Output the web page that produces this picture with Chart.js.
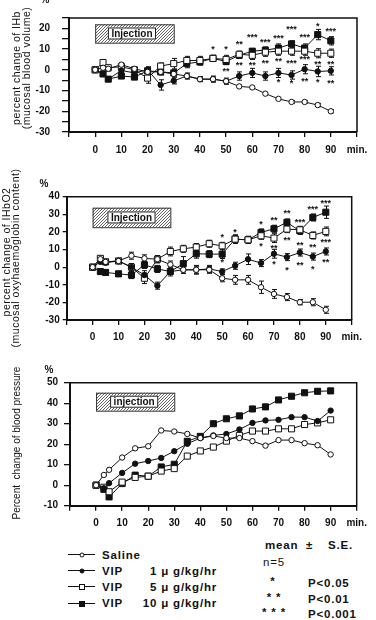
<!DOCTYPE html>
<html>
<head>
<meta charset="utf-8">
<script src="https://cdn.jsdelivr.net/npm/chart.js@4.4.1/dist/chart.umd.min.js"></script>
<style>
  body { margin: 0; background: #fff; }
  #page { position: relative; width: 376px; height: 620px; overflow: hidden;
          font-family: "Liberation Sans", Arial, sans-serif; color: #111; }
  #page canvas { position: absolute; left: 0; }
  .lbl { position: absolute; white-space: nowrap; line-height: 1; }
  .ytitle { transform: translate(-50%, -50%) rotate(-90deg); font-size: 10.5px; letter-spacing: 0.5px; }
  .pct { font-size: 10px; font-weight: bold; transform: translate(-50%, -50%); }
  .leg { font-size: 11.5px; font-weight: bold; letter-spacing: 0.8px; transform: translateY(-50%); }
  .dose { transform: translate(-100%, -50%); }
  .star { transform: translate(-50%, -50%); }
  .ln { position: absolute; left: 68px; width: 27px; height: 0; border-top: 1px solid #111; }
  .mk { position: absolute; box-sizing: border-box; border: 1px solid #111; transform: translate(-50%, -50%); }
</style>
</head>
<body>
<div id="page">
  <canvas id="c1" width="376" height="160" style="top:0"></canvas>
  <canvas id="c2" width="376" height="175" style="top:170px"></canvas>
  <canvas id="c3" width="376" height="170" style="top:360px"></canvas>

  <!-- axis titles -->
  <div class="lbl pct" style="left:45px;top:0px">%</div>
  <div class="lbl ytitle" style="left:16px;top:68px">percent change of IHb</div>
  <div class="lbl ytitle" style="left:26px;top:68px">(mucosal blood volume)</div>

  <div class="lbl pct" style="left:44px;top:184px">%</div>
  <div class="lbl ytitle" style="left:6px;top:252px">percent change of IHbO2</div>
  <div class="lbl ytitle" style="left:15px;top:258px">(mucosal oxyhaemoglobin content)</div>

  <div class="lbl pct" style="left:49px;top:370px">%</div>
  <div class="lbl ytitle" style="left:17px;top:443px;font-size:10px;letter-spacing:0">Percent&nbsp; change of blood pressure</div>

  <!-- legend -->
  <div class="ln" style="top:554px"></div>
  <div class="mk" style="left:82px;top:554.5px;width:5px;height:5px;border-radius:50%;background:#fff"></div>
  <div class="lbl leg" style="left:102px;top:556px">Saline</div>

  <div class="ln" style="top:570px"></div>
  <div class="mk" style="left:82px;top:570.5px;width:5px;height:5px;border-radius:50%;background:#111"></div>
  <div class="lbl leg" style="left:102px;top:572px">VIP</div>
  <div class="lbl leg dose" style="left:217px;top:572px">1 μ g/kg/hr</div>

  <div class="ln" style="top:586px"></div>
  <div class="mk" style="left:82px;top:586.5px;width:6px;height:6px;background:#fff"></div>
  <div class="lbl leg" style="left:102px;top:588px">VIP</div>
  <div class="lbl leg dose" style="left:217px;top:588px">5 μ g/kg/hr</div>

  <div class="ln" style="top:603px"></div>
  <div class="mk" style="left:82px;top:603.5px;width:6px;height:6px;background:#111"></div>
  <div class="lbl leg" style="left:102px;top:604px">VIP</div>
  <div class="lbl leg dose" style="left:217px;top:604px">10 μ g/kg/hr</div>

  <div class="lbl leg" style="left:265px;top:546px">mean</div>
  <div class="lbl leg" style="left:306px;top:546px">±</div>
  <div class="lbl leg" style="left:328px;top:546px">S.E.</div>
  <div class="lbl leg" style="left:263px;top:563px;font-weight:normal">n=5</div>
  <div class="lbl leg star" style="left:273px;top:582px">*</div>
  <div class="lbl leg" style="left:308px;top:584px">P&lt;0.05</div>
  <div class="lbl leg star" style="left:274px;top:598px">* *</div>
  <div class="lbl leg" style="left:308px;top:600px">P&lt;0.01</div>
  <div class="lbl leg star" style="left:274px;top:613px">* * *</div>
  <div class="lbl leg" style="left:308px;top:615px">P&lt;0.001</div>
</div>

<script>
// sampling times (min)
const minutes = [0, 3, 5, 10, 15, 20, 25, 30, 35, 40, 45, 50, 55, 60, 65, 70, 75, 80, 85, 90];
const injection = [0, 30];
const groups = ['Saline', 'VIP 1 μg/kg/hr', 'VIP 5 μg/kg/hr', 'VIP 10 μg/kg/hr'];

// IHb (mucosal blood volume), % change
const ihbSaline = [0, 1, 0.5, 2.5, 0.5, -1, -1, -2, -3, -4.5, -4.5, -5.5, -8, -8.5, -11.5, -14, -15.5, -15.5, -17, -20];
const ihbVip1   = [0, -2, -4.5, -0.3, -1.5, 0, -7.3, -5.3, -3, -4.5, -4.5, -5.5, -3, -1.5, -3, -1.5, -2.5, 0.3, -0.8, -0.5];
const ihbVip5   = [0, 3.5, 1, 1.5, 0, -4, 1.8, 3, 4.5, 4.5, 5.5, 5, 7.5, 7, 8.5, 9, 9, 9, 8, 8];
const ihbVip10  = [0, -2, -4.5, -3, -3.5, -0.5, -1, -1.5, 3, 3.8, 5.5, 4, 7, 9, 9.5, 10.5, 12.5, 10.5, 17, 14];
const ihbSeSaline = [0, 1, 1, 0.8, 1, 1.2, 1, 1, 1, 1, 1, 0.8, 0.6, 0.6, 0.6, 0.6, 0.6, 0.6, 0.8, 0.8];
const ihbSeVip1   = [0, 1, 1, 1, 1, 1.5, 2.5, 1.5, 1.5, 1.2, 1.5, 1.5, 2, 2.2, 2, 2.2, 2, 2.2, 2.5, 2];
const ihbSeVip5   = [0, 1.5, 1.2, 1, 1.5, 2.5, 1.5, 2.5, 2, 2, 1.5, 2, 1.5, 2, 2, 2, 2, 2, 2.2, 2];
const ihbSeVip10  = [0, 1, 1, 1, 1, 1.5, 1.5, 1.5, 2, 1.5, 1.5, 1.5, 1.5, 1.2, 1.5, 2, 1.5, 2, 2.5, 2];
const ihbStars = [
  [45, 10.6, '*'], [50, 10.6, '*'], [55, 13, '**'], [60, 16.5, '***'], [65, 13.9, '***'],
  [70, 16.1, '***'], [75, 20.6, '***'], [80, 16.5, '***'], [85, 22, '*'], [90, 19.6, '***'],
  [50, 0, '**'], [55, 2.8, '**'], [60, 3, '**'], [65, 4.1, '**'], [70, 5.1, '**'],
  [75, 4.1, '***'], [80, 5.7, '***'], [85, 3.3, '**'], [90, 3.3, '**'],
  [70, -5.2, '*'], [75, -5.6, '*'], [80, -4.7, '**'], [85, -5.2, '*'], [90, -5.8, '**']
];

// IHbO2 (mucosal oxyhaemoglobin content), % change
const oxySaline = [0, 4.5, 3, 3.5, 6.5, 5, 4.5, 1.5, -1.5, -1.5, -1.5, -6.3, -7.2, -7.2, -11.4, -15.2, -17, -19.9, -19.9, -24.2];
const oxyVip1   = [0, 3, 2.5, 3.5, 0, -4.5, -10.5, -2.5, -1.5, -1.5, -1, -2.5, 0.8, 4.5, 2.3, 7.6, 5.7, 8.3, 6, 8.9];
const oxyVip5   = [0, 5, 3, 3.5, 0, -6.3, 4.5, 8.9, 10.4, 11.4, 13.3, 12.1, 15.9, 15.5, 17.8, 16.5, 21.6, 21.2, 18, 20.3];
const oxyVip10  = [0, -2.5, -3, -3.8, -4.5, 1.3, -1, -2.5, 2, 7.6, 7.4, 7.4, 15.9, 15.5, 19.7, 21.8, 25.4, 20.6, 28.2, 31.2];
const oxySeSaline = [0, 1.5, 1.5, 1.5, 2, 2, 2, 2, 2, 2, 2, 2, 2.5, 2.5, 3.5, 2.5, 2, 1.5, 2, 2];
const oxySeVip1   = [0, 1, 1, 1.5, 2, 2.5, 2, 1.5, 2, 2.5, 2, 1.5, 2, 3, 2, 2.5, 2, 2, 2, 2];
const oxySeVip5   = [0, 1.5, 1.5, 1.5, 2, 3, 2, 2.5, 2, 2, 2, 2, 2, 2, 2, 2.5, 2, 2, 2, 2.5];
const oxySeVip10  = [0, 1.5, 1.5, 1.5, 2, 2, 2, 2.5, 4, 2.5, 2, 2.5, 2.5, 2, 2, 2, 2, 2, 2, 3.5];
const oxyStars = [
  [50, 17.8, '*'], [55, 20.8, '*'], [65, 25.2, '*'], [70, 27.8, '**'], [75, 31.8, '**'],
  [80, 26.6, '***'], [85, 33.8, '***'], [90, 37.1, '***'],
  [65, 12.8, '*'], [70, 11.7, '**'], [75, 16.5, '**'], [80, 13.6, '**'], [85, 12.1, '**'], [90, 15.1, '***'],
  [50, 3.5, '*'], [70, 2.6, '*'], [75, -0.6, '*'], [80, 2.3, '**'], [85, 0, '*'], [90, 3.8, '**']
];

// blood pressure, % change
const bpSaline = [0, 5, 7.5, 13.5, 18, 19, 26.7, 26.2, 25, 23, 24, 23, 23, 21.5, 19.3, 22, 22, 20.5, 19.5, 15];
const bpVip1   = [0, -1.5, 1, 6, 10.5, 11.8, 13.3, 16.6, 20.2, 23, 24.3, 25, 27.2, 30.4, 31.6, 31.9, 33.2, 33.2, 31.3, 36.4];
const bpVip5   = [0, -1, -3.2, 1.5, 3.8, 4.4, 6.9, 8.1, 14.2, 16.7, 18.6, 21.5, 24.3, 26.4, 26.4, 27.5, 27.5, 29.6, 30.4, 31.9];
const bpVip10  = [0, -2, -5.7, 0.8, 4.9, 4.4, 8.9, 10.2, 21.4, 23.8, 30, 32.4, 33.8, 37.2, 38.2, 41.6, 43.4, 45.1, 45.8, 46];

// marker look for each group
const markerShape = ['circle', 'circle', 'rect', 'rect'];
const markerFill = ['#fff', '#111', '#fff', '#111'];
const markerSize = [2.7, 2.7, 4.3, 4.3];

const FONT = '"Liberation Sans", Arial, sans-serif';

let hatchPattern = null;
function getHatch(ctx) {
    if (hatchPattern) return hatchPattern;
    const c = document.createElement('canvas');
    c.width = c.height = 3;
    const g = c.getContext('2d');
    g.fillStyle = '#fff';
    g.fillRect(0, 0, 3, 3);
    g.strokeStyle = '#555';
    g.lineWidth = 0.9;
    g.beginPath();
    g.moveTo(-1, 4); g.lineTo(4, -1);
    g.moveTo(-1, 1); g.lineTo(1, -1);
    g.moveTo(2, 4); g.lineTo(4, 2);
    g.stroke();
    hatchPattern = ctx.createPattern(c, 'repeat');
    return hatchPattern;
}

// injection box, error bars, significance stars, frame
const figurePlugin = {
    id: 'figure',
    beforeDatasetsDraw(chart, args, opts) {
        const { ctx, chartArea: a, scales: { x, y } } = chart;
        ctx.save();
        // injection period box
        const x0 = x.getPixelForValue(injection[0]);
        const x1 = x.getPixelForValue(injection[1]);
        const y0 = a.top + opts.box[0];
        const y1 = a.top + opts.box[1];
        ctx.fillStyle = getHatch(ctx);
        ctx.fillRect(x0, y0, x1 - x0, y1 - y0);
        ctx.strokeStyle = '#333';
        ctx.lineWidth = 1;
        ctx.strokeRect(x0 + 0.5, y0 + 0.5, x1 - x0, y1 - y0);
        ctx.font = 'bold 10px ' + FONT;
        const w = ctx.measureText(opts.boxText).width + 7;
        const cx = (x0 + x1) / 2 + opts.boxShift;
        const cy = (y0 + y1) / 2;
        ctx.fillStyle = '#fff';
        ctx.fillRect(cx - w / 2, cy - 6, w, 12);
        ctx.strokeStyle = '#222';
        ctx.strokeRect(cx - w / 2 + 0.5, cy - 5.5, w - 1, 11);
        ctx.fillStyle = '#111';
        ctx.textAlign = 'center';
        ctx.textBaseline = 'middle';
        ctx.fillText(opts.boxText, cx, cy + 0.5);

        // error bars (mean ± S.E.)
        if (opts.errors) {
            ctx.strokeStyle = '#111';
            ctx.lineWidth = 1;
            chart.data.datasets.forEach((ds, i) => {
                const se = opts.errors[i];
                ds.data.forEach((pt, j) => {
                    if (!se[j]) return;
                    const px = Math.round(x.getPixelForValue(pt.x)) + 0.5;
                    const top = y.getPixelForValue(pt.y + se[j]);
                    const bot = y.getPixelForValue(pt.y - se[j]);
                    ctx.beginPath();
                    ctx.moveTo(px, top); ctx.lineTo(px, bot);
                    ctx.moveTo(px - 2.5, top); ctx.lineTo(px + 2.5, top);
                    ctx.moveTo(px - 2.5, bot); ctx.lineTo(px + 2.5, bot);
                    ctx.stroke();
                });
            });
        }
        ctx.restore();
    },
    afterDatasetsDraw(chart, args, opts) {
        if (!opts.stars) return;
        const { ctx, scales: { x, y } } = chart;
        ctx.save();
        ctx.font = 'bold 9px ' + FONT;
        ctx.fillStyle = '#111';
        ctx.textAlign = 'center';
        ctx.textBaseline = 'middle';
        opts.stars.forEach(([t, v, s]) => {
            ctx.fillText(s, x.getPixelForValue(t), y.getPixelForValue(v) + 2);
        });
        ctx.restore();
    },
    afterDraw(chart) {
        const { ctx, chartArea: a } = chart;
        ctx.save();
        ctx.strokeStyle = '#111';
        ctx.lineWidth = 1.5;
        ctx.beginPath();
        ctx.moveTo(a.left, a.top);
        ctx.lineTo(a.right, a.top);
        ctx.lineTo(a.right, a.bottom);
        ctx.stroke();
        ctx.restore();
    }
};

function makePanel(p) {
    const datasets = p.values.map((vals, i) => ({
        label: groups[i],
        data: vals.map((v, j) => ({ x: minutes[j], y: v })),
        borderColor: '#111',
        borderWidth: 1,
        backgroundColor: markerFill[i],
        pointStyle: markerShape[i],
        pointRadius: markerSize[i],
        pointBackgroundColor: markerFill[i],
        pointBorderColor: '#111',
        pointBorderWidth: 1,
        tension: 0,
        fill: false
    }));
    const tickFont = { family: FONT, size: 10, weight: 'bold' };
    return new Chart(document.getElementById(p.id), {
        type: 'line',
        data: { datasets },
        options: {
            responsive: false,
            animation: false,
            events: [],
            layout: { padding: { top: p.areaTop, right: 376 - p.right, left: 0, bottom: 0 } },
            plugins: {
                legend: { display: false },
                tooltip: { enabled: false },
                figure: { box: p.box, boxText: p.boxText, boxShift: p.boxShift, errors: p.errors, stars: p.stars }
            },
            scales: {
                x: {
                    type: 'linear',
                    min: -10,
                    max: 100,
                    afterFit(s) { s.height = p.height - p.areaBottom; },
                    border: { display: true, color: '#111', width: 2 },
                    grid: { drawOnChartArea: false, drawTicks: true, tickLength: 5, color: '#111', lineWidth: 1.3 },
                    ticks: {
                        stepSize: 10, autoSkip: false, maxRotation: 0, padding: p.xPad,
                        color: '#111', font: tickFont,
                        callback: v => v === 100 ? 'min.' : (v < 0 ? '' : v)
                    }
                },
                y: {
                    min: p.yMin,
                    max: p.yMax,
                    afterFit(s) { s.width = p.left; },
                    border: { display: true, color: '#111', width: 2 },
                    grid: { drawOnChartArea: false, drawTicks: true, tickLength: p.yTickLen, color: '#111', lineWidth: 1.3 },
                    ticks: {
                        stepSize: p.yStep, autoSkip: false, padding: p.yPad,
                        color: '#111', font: tickFont,
                        callback: v => (v % 10 === 0 ? String(v) : '')
                    }
                }
            }
        },
        plugins: [figurePlugin]
    });
}

document.addEventListener('DOMContentLoaded', function() {
    makePanel({
        id: 'c1', height: 160, left: 69, right: 357, areaTop: 7, areaBottom: 132,
        yMin: -30, yMax: 25, yStep: 5, yTickLen: 7, yPad: 12, xPad: 7,
        values: [ihbSaline, ihbVip1, ihbVip5, ihbVip10],
        errors: [ihbSeSaline, ihbSeVip1, ihbSeVip5, ihbSeVip10],
        stars: ihbStars, box: [6.3, 24.7], boxText: 'Injection', boxShift: -2.5
    });
    makePanel({
        id: 'c2', height: 175, left: 66.7, right: 351.7, areaTop: 26.7, areaBottom: 150,
        yMin: -30, yMax: 40, yStep: 10, yTickLen: 4, yPad: 3, xPad: 6,
        values: [oxySaline, oxyVip1, oxyVip5, oxyVip10],
        errors: [oxySeSaline, oxySeVip1, oxySeVip5, oxySeVip10],
        stars: oxyStars, box: [11, 30.5], boxText: 'Injection', boxShift: 0
    });
    makePanel({
        id: 'c3', height: 170, left: 70, right: 356.7, areaTop: 22.7, areaBottom: 145.7,
        yMin: -10, yMax: 50, yStep: 10, yTickLen: 6, yPad: 6, xPad: 7,
        values: [bpSaline, bpVip1, bpVip5, bpVip10],
        errors: null, stars: null, box: [10, 28], boxText: 'injection', boxShift: -1
    });
});
</script>
</body>
</html>
